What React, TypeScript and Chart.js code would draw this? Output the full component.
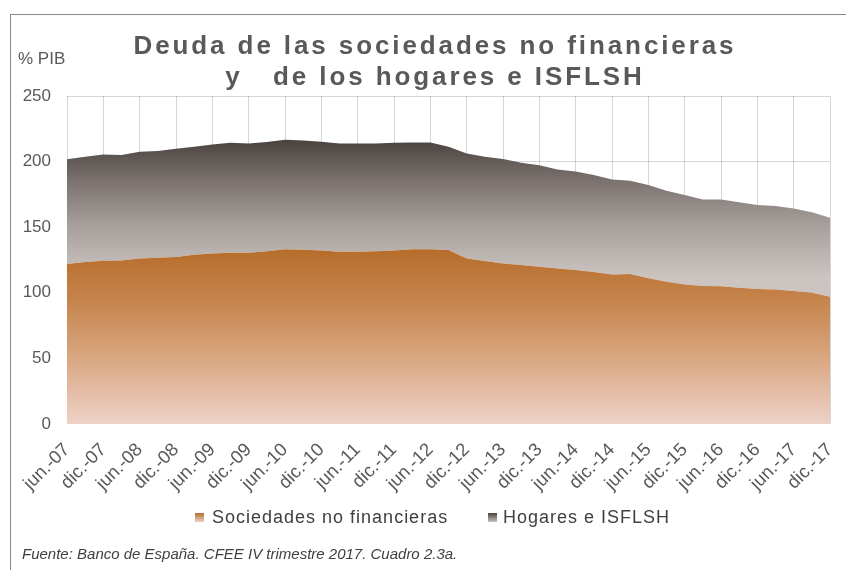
import React, { useEffect, useRef } from 'react';
import { Chart, registerables } from 'chart.js';

Chart.register(...registerables);

// ---- Data ----
const quarterLabels = [
  'jun.-07', 'sep.-07', 'dic.-07',
  'mar.-08', 'jun.-08', 'sep.-08', 'dic.-08',
  'mar.-09', 'jun.-09', 'sep.-09', 'dic.-09',
  'mar.-10', 'jun.-10', 'sep.-10', 'dic.-10',
  'mar.-11', 'jun.-11', 'sep.-11', 'dic.-11',
  'mar.-12', 'jun.-12', 'sep.-12', 'dic.-12',
  'mar.-13', 'jun.-13', 'sep.-13', 'dic.-13',
  'mar.-14', 'jun.-14', 'sep.-14', 'dic.-14',
  'mar.-15', 'jun.-15', 'sep.-15', 'dic.-15',
  'mar.-16', 'jun.-16', 'sep.-16', 'dic.-16',
  'mar.-17', 'jun.-17', 'sep.-17', 'dic.-17',
];

const sociedades = [
  121.9, 123.4, 124.4, 124.7, 126.2, 126.7, 127.2, 129.0, 130.0, 130.5,
  130.5, 131.6, 133.1, 132.8, 132.3, 131.3, 131.3, 131.6, 132.3, 133.1,
  133.1, 132.6, 126.2, 124.2, 122.4, 121.1, 119.9, 118.6, 117.3, 115.8,
  114.0, 114.3, 111.0, 108.4, 106.4, 105.1, 104.9, 103.8, 102.9, 102.6,
  101.3, 100.0, 97.0,
];

const hogares = [
  79.8, 80.3, 81.1, 80.3, 81.3, 81.3, 82.6, 82.3, 83.1, 83.8,
  83.3, 83.3, 83.5, 83.3, 82.8, 82.5, 82.5, 82.2, 82.0, 81.5,
  81.5, 78.7, 80.0, 79.5, 79.5, 78.0, 77.4, 75.4, 75.2, 73.9,
  72.4, 71.1, 71.1, 69.4, 68.1, 66.1, 66.3, 65.3, 64.0, 63.5,
  63.0, 61.3, 60.2,
];

const seriesNames = ['Sociedades no financieras', 'Hogares e ISFLSH'];
const titleLines = ['Deuda de las sociedades no financieras', 'y   de los hogares e ISFLSH'];
const yUnit = '% PIB';
const sourceNote = 'Fuente: Banco de España. CFEE IV trimestre 2017. Cuadro 2.3a.';
const yMin = 0;
const yMax = 250;
const yStep = 50;

// ---- Styles ----
const FONT = "'Liberation Sans', Arial, Helvetica, sans-serif";
const socStops: [number, string][] = [
  [0, '#b56c2a'],
  [0.3, '#c6844b'],
  [0.65, '#daa985'],
  [1, '#eed2c8'],
];
const hogStops: [number, string][] = [
  [0, '#47403d'],
  [0.3, '#7a716e'],
  [0.62, '#a69e9b'],
  [1, '#cbc4c1'],
];
const gridColor = 'rgba(0,0,0,0.16)';

function makeGradient(chart: any, topVal: number, botVal: number, stops: [number, string][]) {
  const { ctx, chartArea, scales } = chart;
  if (!chartArea || !scales.y) return stops[1][1];
  const y0 = scales.y.getPixelForValue(topVal);
  const y1 = scales.y.getPixelForValue(botVal);
  const g = ctx.createLinearGradient(0, y0, 0, y1);
  stops.forEach(([o, c]) => g.addColorStop(o, c));
  return g;
}

export default function App() {
  const canvasRef = useRef<HTMLCanvasElement>(null);

  useEffect(() => {
    const canvas = canvasRef.current;
    if (!canvas) return;
    const chart = new Chart(canvas, {
      type: 'line',
      data: {
        labels: quarterLabels,
        datasets: [
          {
            label: seriesNames[0],
            data: sociedades,
            fill: 'origin',
            backgroundColor: (c: any) => makeGradient(c.chart, 135, 0, socStops),
            borderWidth: 0,
            pointRadius: 0,
            tension: 0,
          },
          {
            label: seriesNames[1],
            data: hogares,
            fill: '-1',
            backgroundColor: (c: any) => makeGradient(c.chart, 218, 112, hogStops),
            borderWidth: 0,
            pointRadius: 0,
            tension: 0,
          },
        ],
      },
      options: {
        responsive: false,
        animation: false,
        events: [],
        layout: { padding: { top: 96, left: 10, right: 16, bottom: 0 } },
        plugins: {
          legend: { display: false },
          title: { display: false },
          tooltip: { enabled: false },
        },
        scales: {
          x: {
            z: 1,
            border: { display: false },
            grid: {
              drawTicks: false,
              color: (c: any) => (c.index % 2 === 0 ? gridColor : 'rgba(0,0,0,0)'),
            },
            ticks: {
              autoSkip: false,
              maxRotation: 45,
              minRotation: 45,
              padding: 15,
              color: '#595959',
              font: { family: FONT, size: 18.5 },
              callback: (_v: any, i: number) => (i % 2 === 0 ? quarterLabels[i] : ''),
            },
            afterFit: (s: any) => {
              s.height = 146;
              s.paddingLeft = 0;
              s.paddingRight = 0;
            },
          },
          y: {
            z: 1,
            stacked: true,
            min: yMin,
            max: yMax,
            border: { display: false },
            grid: {
              drawTicks: false,
              color: (c: any) => (c.tick && c.tick.value === 0 ? 'rgba(0,0,0,0)' : gridColor),
            },
            ticks: {
              stepSize: yStep,
              padding: 16,
              color: '#595959',
              font: { family: FONT, size: 17 },
            },
            afterFit: (s: any) => {
              s.width = 57;
            },
          },
        },
      },
    } as any);
    return () => chart.destroy();
  }, []);

  const textColor = '#595959';

  return (
    <div style={{ position: 'absolute', left: 0, top: 0, width: 846, height: 570, background: '#fff', overflow: 'hidden', fontFamily: FONT }}>
      <div style={{ position: 'absolute', left: 10, top: 14, right: -2, bottom: -2, borderLeft: '1px solid #8a8a8a', borderTop: '1px solid #8a8a8a' }} />
      <canvas ref={canvasRef} width={846} height={570} style={{ position: 'absolute', left: 0, top: 0, display: 'block' }} />
      <div
        style={{
          position: 'absolute', left: 0, top: 30, width: 870, textAlign: 'center',
          fontWeight: 'bold', fontSize: 26, lineHeight: '31px', letterSpacing: 2.9,
          color: textColor, whiteSpace: 'pre',
        }}
      >
        {titleLines[0]}
        {'\n'}
        {titleLines[1]}
      </div>
      <div style={{ position: 'absolute', left: 18, top: 50, fontSize: 17, lineHeight: '17px', color: textColor }}>{yUnit}</div>
      <div style={{ position: 'absolute', left: 195, top: 513, width: 9, height: 9, background: 'linear-gradient(to bottom, #b46d2c, #ecd0c4)' }} />
      <div style={{ position: 'absolute', left: 212, top: 508, fontSize: 18, lineHeight: '18px', letterSpacing: 1, color: '#404040', whiteSpace: 'nowrap' }}>{seriesNames[0]}</div>
      <div style={{ position: 'absolute', left: 488, top: 513, width: 9, height: 9, background: 'linear-gradient(to bottom, #48413e, #cbc4c1)' }} />
      <div style={{ position: 'absolute', left: 503, top: 508, fontSize: 18, lineHeight: '18px', letterSpacing: 1, color: '#404040', whiteSpace: 'nowrap' }}>{seriesNames[1]}</div>
      <div style={{ position: 'absolute', left: 22, top: 546, fontSize: 15, lineHeight: '15px', fontStyle: 'italic', color: '#404040', whiteSpace: 'nowrap' }}>{sourceNote}</div>
    </div>
  );
}
